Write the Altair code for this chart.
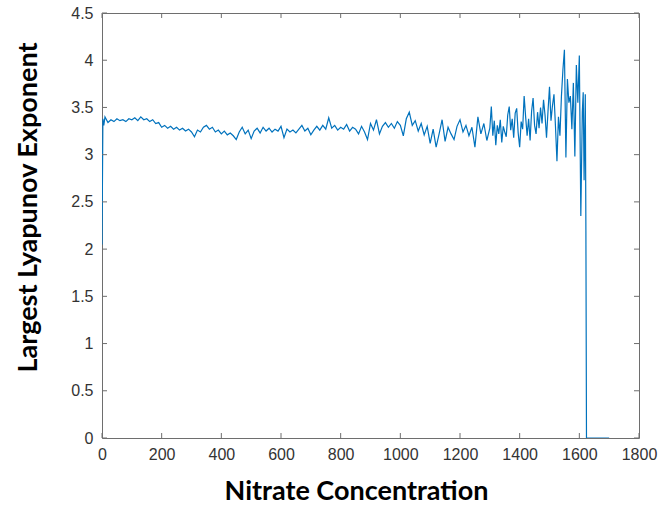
import altair as alt
import pandas as pd

# ---- data ----
x_start = [0, 3, 6, 10, 20, 30, 40, 50, 60, 70, 80, 90, 100, 110, 120, 130, 140, 150, 160, 170, 180, 190]
y_start = [2.05, 3.38, 3.31, 3.40, 3.34, 3.37, 3.35, 3.38, 3.36, 3.37, 3.35, 3.38, 3.37, 3.39, 3.36, 3.40, 3.37, 3.38, 3.35, 3.37, 3.33, 3.34]

x_mid1 = [200, 210, 220, 230, 240, 250, 260, 270, 280, 290, 300, 310, 320, 330, 340, 350, 360, 370, 380, 390,
          400, 410, 420, 430, 440, 450, 460, 470, 480, 490, 500, 510, 520, 530, 540, 550, 560, 570, 580, 590]
y_mid1 = [3.29, 3.31, 3.28, 3.30, 3.27, 3.29, 3.26, 3.28, 3.25, 3.27, 3.24, 3.19, 3.26, 3.24, 3.29, 3.31, 3.27, 3.29, 3.24, 3.26,
          3.22, 3.25, 3.21, 3.23, 3.20, 3.16, 3.24, 3.29, 3.22, 3.26, 3.17, 3.25, 3.28, 3.23, 3.29, 3.25, 3.28, 3.24, 3.27, 3.25]

x_mid2 = [600, 610, 620, 630, 640, 650, 660, 670, 680, 690, 700, 710, 720, 730, 740, 750, 760, 770, 780, 790,
          800, 810, 820, 830, 840, 850, 860, 870, 880, 890, 900, 910, 920, 930, 940, 950, 960, 970, 980, 990]
y_mid2 = [3.30, 3.18, 3.27, 3.24, 3.26, 3.23, 3.27, 3.31, 3.25, 3.28, 3.21, 3.26, 3.30, 3.26, 3.31, 3.27, 3.39, 3.28, 3.31, 3.26,
          3.29, 3.27, 3.32, 3.25, 3.29, 3.27, 3.22, 3.30, 3.24, 3.16, 3.33, 3.26, 3.37, 3.22, 3.30, 3.34, 3.29, 3.33, 3.28, 3.35]

x_mid3 = [1000, 1010, 1020, 1030, 1040, 1050, 1060, 1070, 1080, 1090, 1100, 1110, 1120, 1130, 1140, 1150, 1160, 1170, 1180, 1190,
          1200, 1210, 1220, 1230, 1240, 1250, 1260, 1270, 1280, 1290]
y_mid3 = [3.31, 3.20, 3.38, 3.45, 3.31, 3.36, 3.25, 3.33, 3.21, 3.30, 3.12, 3.27, 3.08, 3.22, 3.37, 3.14, 3.29, 3.22, 3.16, 3.30,
          3.37, 3.24, 3.31, 3.20, 3.29, 3.08, 3.40, 3.22, 3.33, 3.15]

x_end = [1300, 1305, 1310, 1315, 1320, 1325, 1330, 1335, 1340, 1345, 1350, 1355, 1360, 1365, 1370, 1375, 1380, 1385, 1390, 1395,
         1400, 1405, 1410, 1415, 1420, 1425, 1430, 1435, 1440, 1445, 1450, 1455, 1460, 1465, 1470, 1475, 1480, 1485, 1490, 1495,
         1500, 1505, 1510, 1515, 1520, 1525, 1530, 1535, 1540, 1545, 1550, 1555, 1560, 1565, 1570, 1575, 1580, 1585, 1590, 1595,
         1600, 1605, 1610, 1613, 1616, 1620, 1622, 1624, 1700]
y_end = [3.28, 3.51, 3.20, 3.36, 3.10, 3.31, 3.22, 3.37, 3.13, 3.30, 3.24, 3.19, 3.42, 3.51, 3.26, 3.38, 3.18, 3.44, 3.49, 3.23,
         3.08, 3.35, 3.27, 3.62, 3.40, 3.20, 3.38, 3.15, 3.46, 3.60, 3.31, 3.22, 3.45, 3.28, 3.50, 3.33, 3.58, 3.42, 3.18, 3.46,
         3.72, 3.36, 3.52, 3.64, 3.30, 2.93, 3.40, 3.20, 3.62, 3.90, 4.11, 2.97, 3.80, 3.55, 3.62, 3.27, 3.76, 2.98, 3.95, 3.55,
         4.05, 2.35, 3.45, 3.66, 2.73, 3.64, 2.20, 0.0, 0.0]

x_ticks = [0, 200, 400, 600, 800, 1000, 1200, 1400, 1600, 1800]
y_ticks = [0, 0.5, 1, 1.5, 2, 2.5, 3, 3.5, 4, 4.5]

x_title = "Nitrate Concentration"
y_title = "Largest Lyapunov Exponent"

# ---- build table ----
xs = x_start + x_mid1 + x_mid2 + x_mid3 + x_end
ys = y_start + y_mid1 + y_mid2 + y_mid3 + y_end
df = pd.DataFrame({"x": xs, "y": ys, "i": list(range(len(xs)))})
df_xt = pd.DataFrame({"t": x_ticks})
df_yt = pd.DataFrame({"t": y_ticks})

W, H = 537, 425
AX = "#6e6e6e"
LBL_FONT = "Liberation Sans"
XS = alt.Scale(domain=[0, 1800], nice=False, zero=False)
YS = alt.Scale(domain=[0, 4.5], nice=False, zero=False)

line = alt.Chart(df).mark_line(color="#0072BD", strokeWidth=1.2, clip=True).encode(
    x=alt.X("x:Q", scale=XS, axis=alt.Axis(
        values=x_ticks, format="d", ticks=False, domain=False, grid=False,
        labelFlush=False, labelOverlap=False,
        labelFont=LBL_FONT, labelFontSize=16, labelColor="#333333", labelPadding=8,
        title=x_title, titleFont="Lato", titleFontSize=27, titleFontWeight="bold", titleColor="#000000",
        titleX=254, titleY=53, titleBaseline="middle", titleAlign="center")),
    y=alt.Y("y:Q", scale=YS, axis=alt.Axis(
        values=y_ticks, format="~g", ticks=False, domain=False, grid=False,
        labelFlush=False, labelOverlap=False,
        labelFont=LBL_FONT, labelFontSize=16, labelColor="#333333", labelPadding=9,
        title=y_title, titleFont="Lato", titleFontSize=27, titleFontWeight="bold", titleColor="#000000",
        titleX=-74, titleY=194, titleAngle=270, titleBaseline="middle", titleAlign="center")),
    order="i:Q",
)

xb = alt.Chart(df_xt).mark_rule(color=AX, strokeWidth=1).encode(
    x=alt.X("t:Q", scale=XS), y=alt.value(H), y2=alt.value(H - 5))
xt = alt.Chart(df_xt).mark_rule(color=AX, strokeWidth=1).encode(
    x=alt.X("t:Q", scale=XS), y=alt.value(0), y2=alt.value(5))
yl = alt.Chart(df_yt).mark_rule(color=AX, strokeWidth=1).encode(
    y=alt.Y("t:Q", scale=YS), x=alt.value(0), x2=alt.value(5))
yr = alt.Chart(df_yt).mark_rule(color=AX, strokeWidth=1).encode(
    y=alt.Y("t:Q", scale=YS), x=alt.value(W), x2=alt.value(W - 5))

chart = alt.layer(line, xb, xt, yl, yr).properties(
    width=W, height=H,
    padding={"left": 102, "top": 13, "right": 21, "bottom": 68},
    autosize="none",
    background="white",
).configure_view(stroke=AX, strokeWidth=1)

chart.save("out.html", embed_options={"renderer": "svg", "actions": False})
